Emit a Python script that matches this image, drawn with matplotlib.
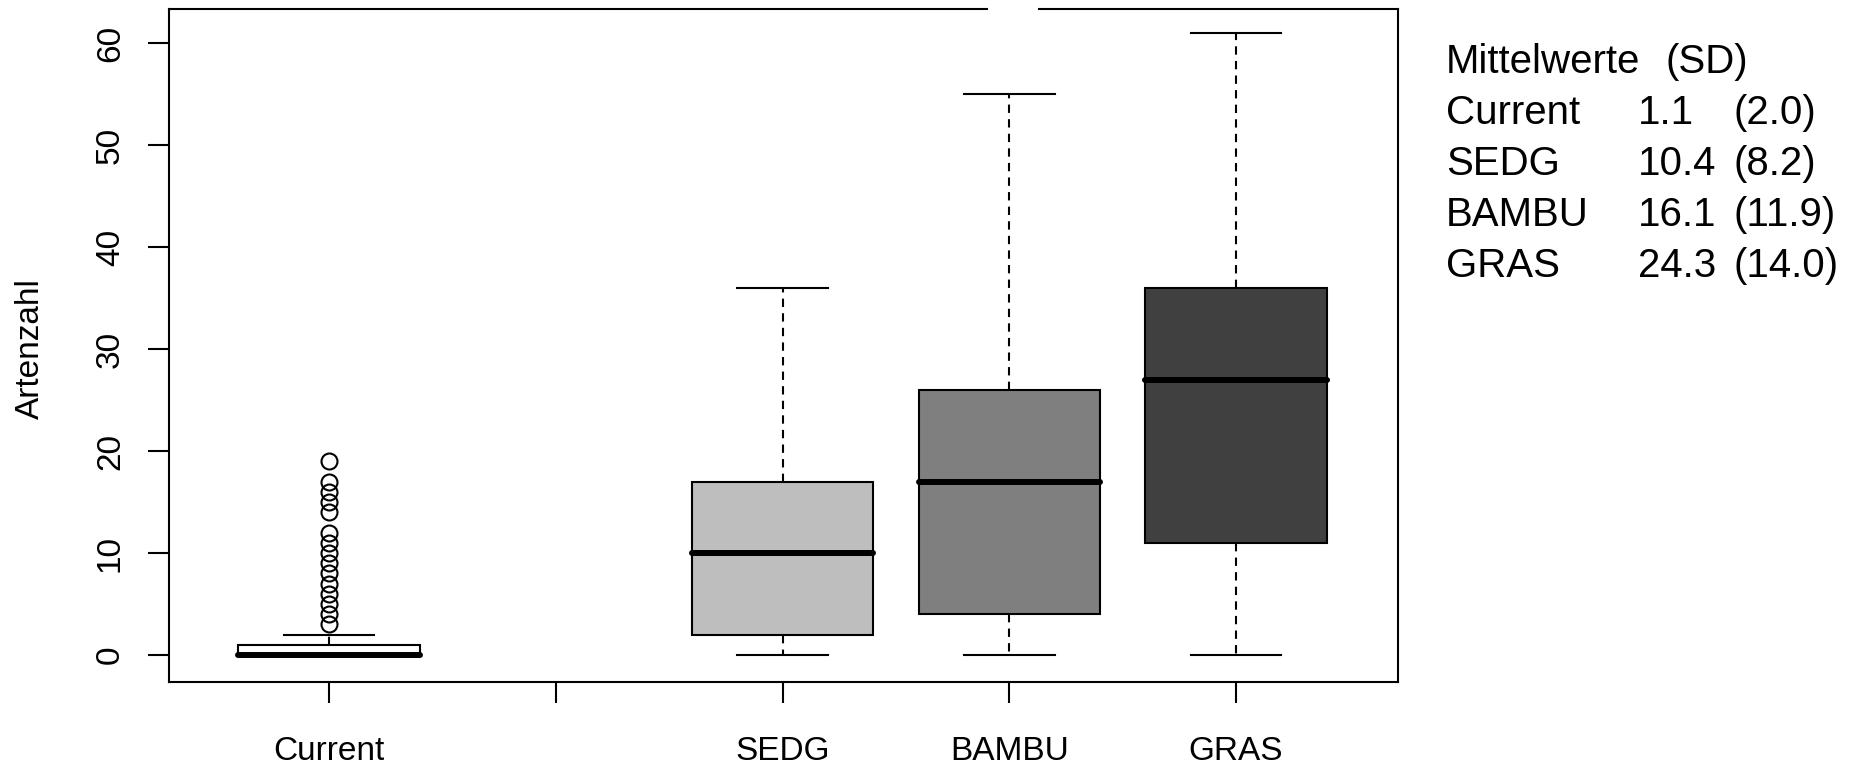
import matplotlib
matplotlib.use("Agg")
import matplotlib.pyplot as plt
from matplotlib.patches import Rectangle

plt.rcParams['font.family'] = ['Liberation Sans', 'DejaVu Sans']

# boxplot summary values
groups = ["Current", "SEDG", "BAMBU", "GRAS"]
positions = [1, 3, 4, 5]
whislo = [0, 0, 0, 0]
q1 = [0, 2, 4, 11]
med = [0, 10, 17, 27]
q3 = [1, 17, 26, 36]
whishi = [2, 36, 55, 61]
current_outliers = [3, 4, 5, 6, 7, 8, 9, 10, 11, 12, 14, 15, 16, 17, 19]
fills = ["white", "#BEBEBE", "#7F7F7F", "#404040"]

tick_pos = [1, 2, 3, 4, 5]
tick_labels = ["Current", "", "SEDG", "BAMBU", "GRAS"]
yticks = [0, 10, 20, 30, 40, 50, 60]

means = [1.1, 10.4, 16.1, 24.3]
sds = [2.0, 8.2, 11.9, 14.0]

stats = []
for i, g in enumerate(groups):
    stats.append(dict(label=g, whislo=whislo[i], q1=q1[i], med=med[i], q3=q3[i],
                      whishi=whishi[i],
                      fliers=current_outliers if g == "Current" else []))

fig = plt.figure(figsize=(18.54, 7.69), dpi=100)
ax = fig.add_axes([169/1854, 1-682/769, (1398-169)/1854, (682-9)/769])

lw = 1.5
bp = ax.bxp(stats, positions=positions, widths=0.8, capwidths=0.4,
            patch_artist=True, showfliers=True,
            boxprops=dict(linewidth=lw, edgecolor='black'),
            whiskerprops=dict(linewidth=lw, linestyle=(0, (4, 3)), color='black'),
            capprops=dict(linewidth=lw, color='black'),
            medianprops=dict(linewidth=4.3, color='black', solid_capstyle='round'),
            flierprops=dict(marker='o', markersize=11.5, markerfacecolor='none',
                            markeredgecolor='black', markeredgewidth=1.5))
for box, c in zip(bp['boxes'], fills):
    box.set_facecolor(c)

ax.set_xlim(0.294, 5.714)
ax.set_ylim(-2.65, 63.35)
ax.set_xticks(tick_pos)
ax.set_xticklabels(tick_labels)
ax.set_yticks(yticks)
ax.set_yticklabels([str(v) for v in yticks])
ax.tick_params(axis='both', length=15, width=1.5, labelsize=24, direction='out')
ax.tick_params(axis='x', pad=24)
ax.tick_params(axis='y', pad=16, labelrotation=90)
for lbl in ax.get_yticklabels():
    lbl.set_va('center')
for s in ax.spines.values():
    s.set_linewidth(1.5)

# gap in the top border
ax.add_patch(Rectangle((0.666, 0.98), 0.041, 0.04, transform=ax.transAxes,
                       facecolor='white', edgecolor='none', clip_on=False, zorder=5))

fig.text(30/1854, 1-349/769, "Artenzahl", rotation=90, ha='center', va='center', fontsize=24)

# text block with means and SDs
fs = 29
fig.text(1446/1854, 1-73/769, "Mittelwerte", fontsize=fs, va='baseline')
fig.text(1665/1854, 1-73/769, "(SD)", fontsize=fs, va='baseline')
for i, g in enumerate(groups):
    yb = 1 - (124 + 51*i)/769
    fig.text(1446/1854, yb, g, fontsize=fs, va='baseline')
    fig.text(1638/1854, yb, f"{means[i]:.1f}", fontsize=fs, va='baseline')
    fig.text(1733/1854, yb, f"({sds[i]:.1f})", fontsize=fs, va='baseline')

fig.savefig("out.png", dpi=100)
